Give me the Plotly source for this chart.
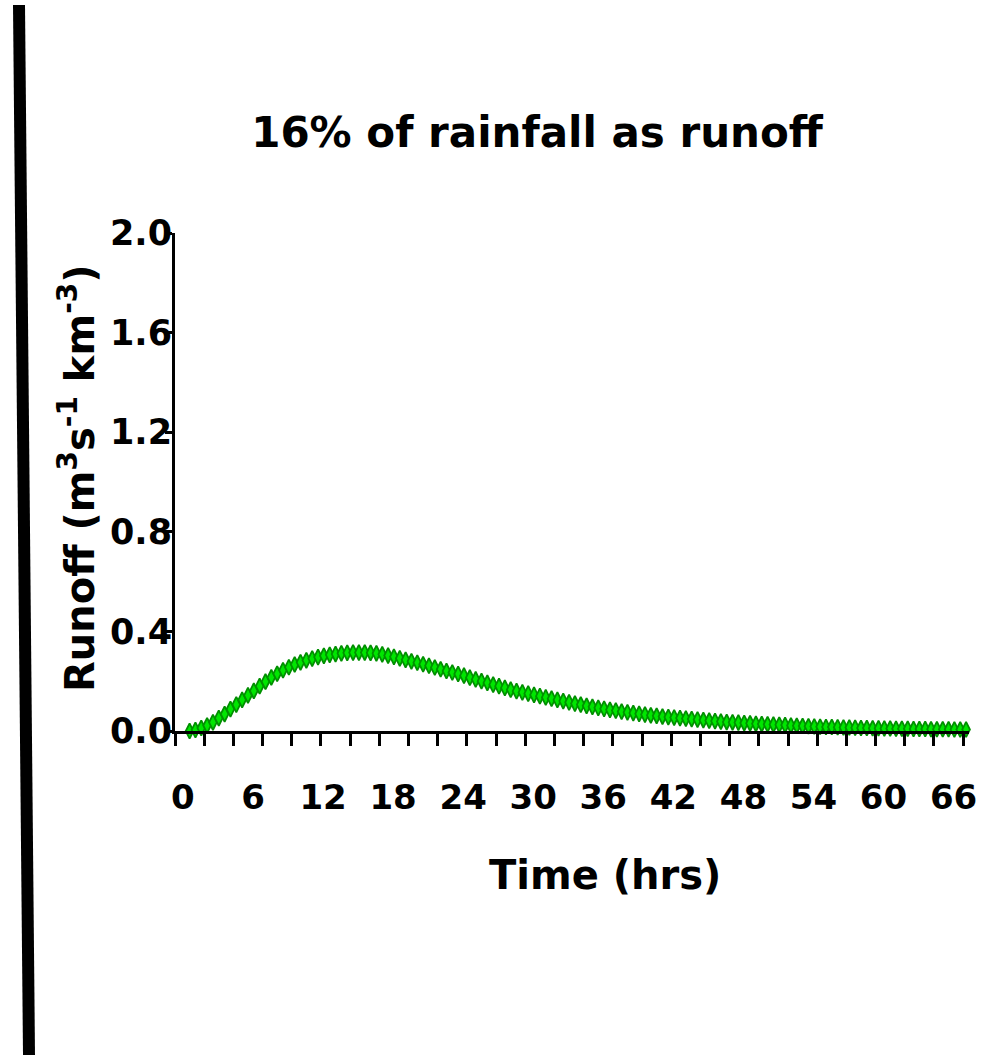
import plotly.graph_objects as go

# ---- data ----
time_hrs = [
    1.0, 1.5, 2.0, 2.5, 3.0, 3.5, 4.0, 4.5, 5.0, 5.5,
    6.0, 6.5, 7.0, 7.5, 8.0, 8.5, 9.0, 9.5, 10.0, 10.5,
    11.0, 11.5, 12.0, 12.5, 13.0, 13.5, 14.0, 14.5, 15.0, 15.5,
    16.0, 16.5, 17.0, 17.5, 18.0, 18.5, 19.0, 19.5, 20.0, 20.5,
    21.0, 21.5, 22.0, 22.5, 23.0, 23.5, 24.0, 24.5, 25.0, 25.5,
    26.0, 26.5, 27.0, 27.5, 28.0, 28.5, 29.0, 29.5, 30.0, 30.5,
    31.0, 31.5, 32.0, 32.5, 33.0, 33.5, 34.0, 34.5, 35.0, 35.5,
    36.0, 36.5, 37.0, 37.5, 38.0, 38.5, 39.0, 39.5, 40.0, 40.5,
    41.0, 41.5, 42.0, 42.5, 43.0, 43.5, 44.0, 44.5, 45.0, 45.5,
    46.0, 46.5, 47.0, 47.5, 48.0, 48.5, 49.0, 49.5, 50.0, 50.5,
    51.0, 51.5, 52.0, 52.5, 53.0, 53.5, 54.0, 54.5, 55.0, 55.5,
    56.0, 56.5, 57.0, 57.5, 58.0, 58.5, 59.0, 59.5, 60.0, 60.5,
    61.0, 61.5, 62.0, 62.5, 63.0, 63.5, 64.0, 64.5, 65.0, 65.5,
    66.0, 66.5, 67.0, 67.5,
]
runoff = [
    0.000, 0.004, 0.012, 0.022, 0.035, 0.052, 0.068, 0.088, 0.106, 0.125,
    0.143, 0.161, 0.180, 0.198, 0.215, 0.230, 0.244, 0.256, 0.267, 0.276,
    0.284, 0.291, 0.297, 0.302, 0.306, 0.309, 0.312, 0.314, 0.315, 0.315,
    0.315, 0.314, 0.312, 0.308, 0.303, 0.298, 0.292, 0.286, 0.280, 0.274,
    0.268, 0.262, 0.255, 0.248, 0.241, 0.235, 0.229, 0.222, 0.214, 0.207,
    0.200, 0.193, 0.186, 0.180, 0.173, 0.166, 0.160, 0.155, 0.150, 0.145,
    0.140, 0.135, 0.130, 0.125, 0.120, 0.115, 0.110, 0.106, 0.101, 0.097,
    0.093, 0.089, 0.085, 0.082, 0.078, 0.075, 0.072, 0.069, 0.066, 0.063,
    0.061, 0.058, 0.056, 0.054, 0.052, 0.050, 0.048, 0.046, 0.044, 0.042,
    0.040, 0.038, 0.036, 0.035, 0.034, 0.032, 0.031, 0.029, 0.028, 0.027,
    0.026, 0.025, 0.024, 0.022, 0.021, 0.020, 0.019, 0.018, 0.017, 0.016,
    0.016, 0.015, 0.014, 0.014, 0.013, 0.012, 0.012, 0.011, 0.011, 0.010,
    0.010, 0.009, 0.009, 0.009, 0.008, 0.008, 0.008, 0.007, 0.007, 0.007,
    0.007, 0.006, 0.006, 0.006,
]
x_tick_vals = [0, 6, 12, 18, 24, 30, 36, 42, 48, 54, 60, 66]
x_tick_text = ["0", "6", "12", "18", "24", "30", "36", "42", "48", "54", "60", "66"]
y_tick_vals = [0.0, 0.4, 0.8, 1.2, 1.6, 2.0]
y_tick_text = ["0.0", "0.4", "0.8", "1.2", "1.6", "2.0"]

title_text = "16% of rainfall as runoff"
x_title = "Time (hrs)"
y_title = "Runoff (m<sup>3</sup>s<sup>-1</sup> km<sup>-3</sup>)"

FONT = "DejaVu Sans"

# plot area in pixels
W, H = 988, 1057
L, R, T, B = 175, 969, 233, 731


def px_x(p):
    return (p - L) / (R - L)


def px_y(p):
    return (B - p) / (B - T)


fig = go.Figure()
fig.add_trace(go.Scatter(
    x=time_hrs, y=runoff, mode="markers",
    marker=dict(symbol="diamond-tall", size=11, color="#00e600",
                line=dict(color="#009000", width=1.8)),
    cliponaxis=False, showlegend=False,
))

fig.update_layout(
    width=W, height=H,
    margin=dict(l=L, r=W - R, t=T, b=H - B, pad=0),
    paper_bgcolor="white", plot_bgcolor="white",
    font=dict(family=FONT, color="black"),
    title=dict(text="<b>" + title_text + "</b>", x=537 / W, xanchor="center",
               y=1 - 132 / H, yanchor="middle", xref="container", yref="container",
               font=dict(family=FONT, size=42, color="black")),
    xaxis=dict(
        range=[-0.25, 67.75], showgrid=False, zeroline=False,
        showline=True, linecolor="black", linewidth=3,
        tickmode="array", tickvals=x_tick_vals,
        ticktext=["<b>" + t + "</b>" for t in x_tick_text],
        ticks="", ticklabelstandoff=34, ticklabelshift=5,
        tickfont=dict(family=FONT, size=34, color="black"),
        minor=dict(tickmode="linear", tick0=2.25, dtick=2.5, ticks="outside",
                   ticklen=12, tickwidth=3, tickcolor="black", showgrid=False),
    ),
    yaxis=dict(
        range=[0, 2.0], showgrid=False, zeroline=False,
        showline=True, linecolor="black", linewidth=3,
        tickmode="array", tickvals=y_tick_vals,
        ticktext=["<b>" + t + "</b>" for t in y_tick_text],
        ticks="outside", ticklen=7, tickwidth=3, tickcolor="black",
        ticklabelstandoff=-14,
        tickfont=dict(family=FONT, size=35, color="black"),
    ),
    annotations=[
        dict(text="<b>" + x_title + "</b>", xref="paper", yref="paper",
             x=px_x(605), y=px_y(875), xanchor="center", yanchor="middle",
             showarrow=False, font=dict(family=FONT, size=40, color="black")),
        dict(text="<b>" + y_title + "</b>", xref="paper", yref="paper",
             x=px_x(77), y=px_y(478), xanchor="center", yanchor="middle",
             textangle=-90, showarrow=False,
             font=dict(family=FONT, size=40, color="black")),
    ],
    shapes=[
        dict(type="line", xref="paper", yref="paper",
             x0=px_x(19), y0=px_y(5), x1=px_x(29), y1=px_y(1055),
             line=dict(color="black", width=12)),
    ],
)

fig.write_html("out.html")
